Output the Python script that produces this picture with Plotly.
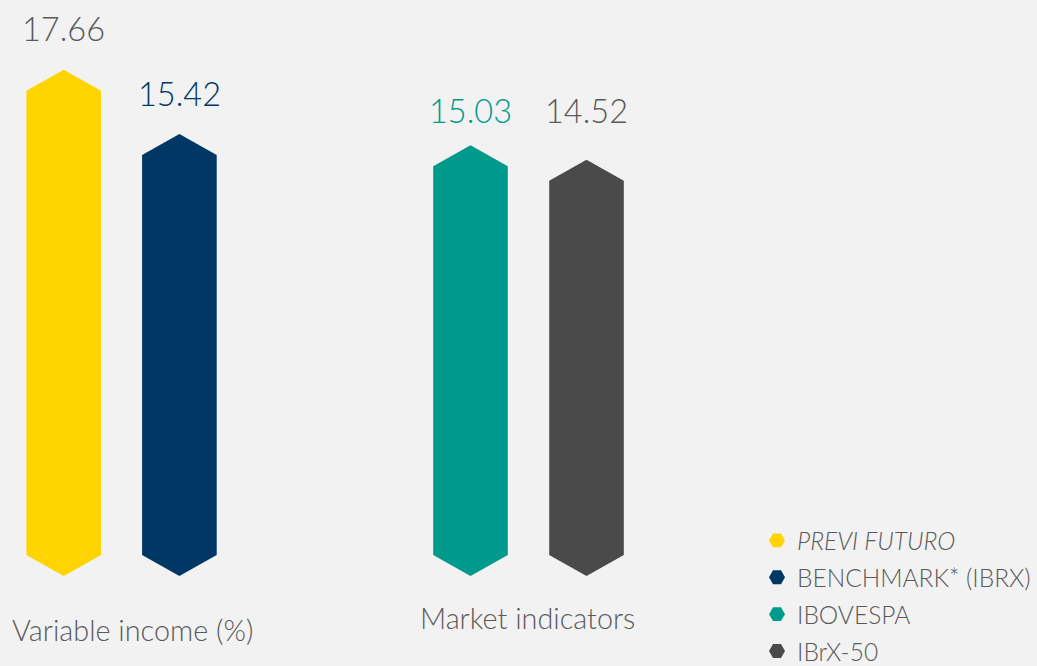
import plotly.graph_objects as go

# ---- data ----
series = ["<i>PREVI FUTURO</i>", "BENCHMARK* (IBRX)", "IBOVESPA", "IBrX-50"]
values = [17.66, 15.42, 15.03, 14.52]
value_labels = ["17.66", "15.42", "15.03", "14.52"]
colors = ["#FFD400", "#003764", "#009A8C", "#4A4A4A"]
label_colors = ["#5A5A5A", "#003764", "#009A8C", "#5A5A5A"]
groups = ["Variable income (%)", "Market indicators"]

# ---- layout constants (pixel-like x axis) ----
W, H = 1037, 666
centers = [63.7, 179.4, 470.5, 586.5]
label_shift = [41, 41, 35, 49]  # px above the bar tip
half_w = 37.3
tip = 0.73  # height of the pointed ends in value units
PX_PER_UNIT = 28.66
zero_px = 576
y_min = -(H - zero_px) / PX_PER_UNIT
y_max = zero_px / PX_PER_UNIT

FONT = "Lato"
fig = go.Figure()

for name, v, c, cx in zip(series, values, colors, centers):
    xs = [cx, cx + half_w, cx + half_w, cx, cx - half_w, cx - half_w, cx]
    ys = [v, v - tip, tip, 0, tip, v - tip, v]
    fig.add_trace(go.Scatter(x=xs, y=ys, fill="toself", fillcolor=c, mode="lines",
                             line=dict(width=0, color=c), showlegend=False, hoverinfo="skip"))

for i, (name, c) in enumerate(zip(series, colors)):
    fig.add_trace(go.Scatter(x=[None], y=[None], mode="markers", name=name,
                             legendgroup=f"g{i}",
                             marker=dict(symbol="hexagon2", size=16, color=c)))

for v, lbl, lc, cx, sh in zip(values, value_labels, label_colors, centers, label_shift):
    fig.add_annotation(x=cx, y=v, text=lbl, showarrow=False, yanchor="middle", yshift=sh,
                       font=dict(family=FONT, size=32.5, color=lc, weight=300))

fig.add_annotation(x=132, y=(H - 630) / H, yref="paper", text=groups[0], showarrow=False,
                   yanchor="middle",
                   font=dict(family=FONT, size=28.8, color="#5A5A5A", weight=300))
fig.add_annotation(x=527.5, y=(H - 618) / H, yref="paper", text=groups[1], showarrow=False,
                   yanchor="middle",
                   font=dict(family=FONT, size=28.8, color="#5A5A5A", weight=300))

fig.update_layout(
    width=W, height=H, margin=dict(l=0, r=0, t=0, b=0, autoexpand=False), autosize=False,
    paper_bgcolor="#F2F2F2", plot_bgcolor="#F2F2F2",
    xaxis=dict(range=[0, W], visible=False, fixedrange=True),
    yaxis=dict(range=[y_min, y_max], visible=False, fixedrange=True),
    showlegend=True,
    legend=dict(x=757 / W, y=(H - 518) / H, xanchor="left", yanchor="top",
                bgcolor="rgba(0,0,0,0)", tracegroupgap=2, itemwidth=30,
                font=dict(family=FONT, size=24.5, color="#5A5A5A", weight=300)),
)

css = ("var s=document.createElement('style');"
       "s.innerHTML='html,body{margin:0;padding:0;overflow:hidden;height:666px;}"
       ".plotly-graph-div{display:block;}';"
       "document.head.appendChild(s);")
fig.write_html("out.html", config={"responsive": False, "displayModeBar": False},
               post_script=css)
